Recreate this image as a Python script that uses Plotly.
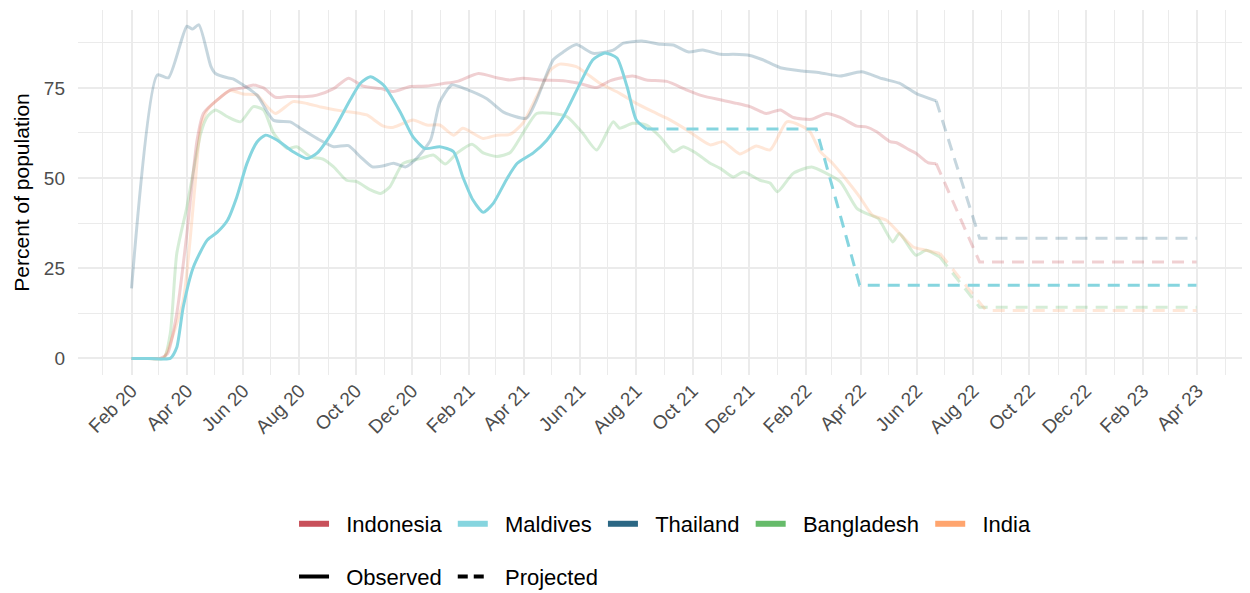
import pandas as pd
import plotly.graph_objects as go

START = "2020-02-01"

# ---- data: (day offset from 1 Feb 2020, percent of population) ----
thailand_days = [0, 28, 40, 60, 66, 73, 86, 91, 104, 110, 121, 136, 154, 172, 183, 201, 219, 235, 248, 261, 273, 284, 297, 309, 324, 334, 347, 363, 385, 403, 428, 439, 457, 468, 482, 500, 522, 533, 553, 573, 587, 603, 619, 638, 652, 670, 684, 703, 727, 746, 768, 791, 813, 832, 850, 872]
thailand_vals = [19.4, 78.6, 77.8, 92.1, 91.3, 92.5, 81, 79, 77.8, 77.5, 75.8, 73, 66, 65.6, 63.8, 61, 58.7, 59, 55.9, 53.1, 53.4, 54.1, 53.1, 55.5, 60.5, 71, 75.8, 74.6, 72, 68.3, 66.6, 71.7, 82.8, 85, 87, 84.6, 85.5, 87.4, 88, 87.1, 86.9, 85, 85.5, 84.3, 84.3, 84, 82.8, 80.6, 79.7, 79.2, 78.3, 79.5, 77.6, 76.3, 73.5, 71.4]
thailand_proj_days = [872, 919, 1154]
thailand_proj_vals = [71.4, 33.3, 33.3]

indonesia_days = [0, 15, 31, 39, 49, 60, 71, 78, 93, 107, 121, 132, 143, 156, 169, 190, 201, 219, 235, 251, 270, 284, 302, 320, 338, 353, 376, 396, 410, 424, 443, 468, 486, 504, 519, 543, 558, 580, 602, 619, 638, 656, 670, 688, 703, 717, 737, 753, 768, 786, 796, 807, 822, 829, 843, 850, 863, 872]
indonesia_vals = [0, 0, 0, 1.3, 12.4, 34.6, 60.5, 68, 71.7, 74.4, 75, 75.8, 75, 72.4, 72.6, 72.6, 73, 74.8, 77.7, 75.5, 74.8, 74, 75.4, 75.5, 76.2, 76.8, 79, 77.8, 77.2, 77.7, 77.2, 77, 76.2, 75.1, 77, 78.3, 77.2, 76.8, 74.4, 72.8, 71.7, 70.7, 69.8, 67.9, 68.9, 66.8, 66.3, 67.9, 66.8, 64.4, 64.2, 62.9, 60.1, 59.8, 57.8, 56.9, 54.3, 54]
indonesia_proj_days = [872, 919, 1154]
indonesia_proj_vals = [54, 26.7, 26.7]

india_days = [0, 17, 34, 39, 56, 69, 75, 82, 93, 107, 121, 136, 147, 156, 175, 190, 205, 226, 248, 255, 273, 284, 305, 320, 334, 349, 359, 381, 396, 410, 424, 439, 454, 464, 482, 493, 508, 529, 547, 565, 580, 602, 627, 641, 659, 677, 692, 710, 724, 735, 746, 760, 775, 789, 803, 818, 832, 847, 861, 876]
india_vals = [0, 0, 0, 2.2, 16, 48.5, 64.3, 68.9, 71.7, 74.3, 73.3, 73, 69.8, 67.9, 71.2, 70.7, 69.7, 68.7, 67.9, 67.5, 64.4, 64.1, 66.1, 64.7, 64.7, 61.9, 63.8, 61, 61.9, 62.1, 65.2, 72.6, 80, 81.6, 80.9, 79, 76.2, 73.5, 70.7, 68.4, 66.6, 63.3, 59.2, 60.1, 56.7, 58.9, 57.8, 65.6, 64.7, 62.9, 57.5, 54, 49.4, 44.8, 39.7, 38.3, 34.7, 30.9, 30, 29.1]
india_proj_days = [876, 926, 1154]
india_proj_vals = [29.1, 13.3, 13.3]

bangladesh_days = [0, 17, 35, 42, 49, 60, 75, 82, 91, 104, 118, 132, 143, 154, 169, 179, 194, 208, 219, 233, 244, 259, 270, 280, 294, 313, 327, 340, 353, 369, 381, 396, 410, 424, 439, 457, 472, 489, 504, 522, 529, 543, 558, 573, 587, 598, 612, 627, 638, 652, 663, 681, 692, 700, 717, 737, 753, 768, 786, 796, 809, 825, 832, 850, 861, 876]
bangladesh_vals = [0, 0, 0, 6.9, 29, 42, 62.4, 67, 68.9, 67, 65.6, 69.8, 68.9, 62.4, 58.2, 58.7, 55.9, 55.2, 53.1, 49.4, 49, 46.7, 45.7, 47.6, 54, 55.4, 56.4, 53.9, 57, 59.4, 57, 56, 57, 62.4, 67.9, 67.9, 67, 62.4, 57.8, 65.6, 63.8, 65.2, 64.7, 61.4, 57.3, 58.7, 56.9, 54.1, 52.7, 50.3, 51.7, 49.4, 48.6, 46.2, 51.3, 53.1, 51.3, 49, 41.6, 40.2, 38.8, 32.3, 34.6, 28.6, 30, 28.1]
bangladesh_proj_days = [876, 919, 1154]
bangladesh_proj_vals = [28.1, 14.2, 14.2]

maldives_days = [0, 21, 42, 49, 56, 67, 82, 93, 104, 114, 125, 136, 145, 158, 175, 190, 201, 219, 237, 248, 259, 273, 291, 305, 318, 334, 349, 359, 370, 381, 392, 407, 418, 435, 450, 468, 486, 500, 513, 526, 537, 547, 558]
maldives_vals = [0, 0, 0, 3, 14.2, 25.3, 32.8, 35, 38.3, 44.7, 54, 60, 61.9, 60.5, 57.3, 55.4, 56.9, 63.3, 71.7, 76.3, 78.1, 75.8, 68.4, 61.4, 58.2, 58.7, 57.3, 50.3, 43.9, 40.5, 43, 49.9, 54.1, 56.9, 60.5, 67, 76.2, 82.8, 84.7, 83.3, 75.3, 66.1, 63.6]
maldives_proj_days = [558, 742, 789, 1154]
maldives_proj_vals = [63.6, 63.6, 20.3, 20.3]

countries = ["Indonesia", "Maldives", "Thailand", "Bangladesh", "India"]
linetypes = ["Observed", "Projected"]
colors = {"Indonesia": "#C8505A", "Maldives": "#86D5DF", "Thailand": "#2B6784",
          "Bangladesh": "#66BB6A", "India": "#FFA56E"}

series = {
    "Thailand": (thailand_days, thailand_vals, thailand_proj_days, thailand_proj_vals),
    "Indonesia": (indonesia_days, indonesia_vals, indonesia_proj_days, indonesia_proj_vals),
    "India": (india_days, india_vals, india_proj_days, india_proj_vals),
    "Bangladesh": (bangladesh_days, bangladesh_vals, bangladesh_proj_days, bangladesh_proj_vals),
    "Maldives": (maldives_days, maldives_vals, maldives_proj_days, maldives_proj_vals),
}
highlight = "Maldives"


def to_dates(days):
    return pd.Timestamp(START) + pd.to_timedelta(days, unit="D")


def rgba(hexc, a):
    h = hexc.lstrip("#")
    r, g, b = int(h[0:2], 16), int(h[2:4], 16), int(h[4:6], 16)
    return f"rgba({r},{g},{b},{a})"


NB = "\u00a0"

fig = go.Figure()
draw_order = ["Bangladesh", "India", "Indonesia", "Thailand", "Maldives"]
for name in draw_order:
    d, v, pd_, pv = series[name]
    col = colors[name] if name == highlight else rgba(colors[name], 0.27)
    fig.add_trace(go.Scatter(x=to_dates(d), y=v, mode="lines",
                             line=dict(color=col, width=3, shape="spline", smoothing=0.6),
                             showlegend=False, hoverinfo="skip"))
    fig.add_trace(go.Scatter(x=to_dates(pd_), y=pv, mode="lines",
                             line=dict(color=col, width=3, dash="12px,8px"),
                             showlegend=False, hoverinfo="skip"))

# legend entries
for name in countries:
    fig.add_trace(go.Scatter(x=[None], y=[None], mode="lines", name=NB * 2 + name + NB,
                             line=dict(color=colors[name], width=6), legend="legend"))
fig.add_trace(go.Scatter(x=[None], y=[None], mode="lines", name=NB * 2 + linetypes[0] + NB,
                         line=dict(color="black", width=4), legend="legend2"))
fig.add_trace(go.Scatter(x=[None], y=[None], mode="lines", name=NB * 2 + linetypes[1] + NB,
                         line=dict(color="black", width=4, dash="10px,6px"), legend="legend2"))

grid = "#EBEBEB"
font = "Liberation Sans, Arial, sans-serif"
# page body has an 8px default margin, so the figure is sized/offset to fit the window
fig.update_layout(
    width=1242, height=585,
    margin=dict(l=70, r=0, t=2, b=218),
    paper_bgcolor="white", plot_bgcolor="white",
    font=dict(family=font, color="black"),
    xaxis=dict(
        range=["2019-12-05", "2023-05-28"], automargin=False,
        dtick="M2", tick0="2020-02-01", tickformat="%b %y",
        tickangle=-45, showgrid=True, gridcolor=grid, gridwidth=1.6,
        zeroline=False, showline=False, ticks="",
        tickfont=dict(size=19, color="#4D4D4D", family=font),
        minor=dict(dtick="M1", tick0="2020-02-01", showgrid=True, gridcolor=grid, gridwidth=0.8),
    ),
    yaxis=dict(
        range=[-4.6, 96.6], tickvals=[0, 25, 50, 75], automargin=False,
        showgrid=True, gridcolor=grid, gridwidth=1.6, zeroline=False, showline=False,
        ticks="", ticklabelstandoff=12, tickfont=dict(size=19, color="#4D4D4D", family=font),
        minor=dict(dtick=12.5, tick0=0, showgrid=True, gridcolor=grid, gridwidth=0.8),
        title=dict(text="Percent of population", font=dict(size=21, color="black", family=font), standoff=8),
    ),
    legend=dict(orientation="h", xref="container", yref="container",
                x=0.2303, xanchor="left", y=0.118, yanchor="middle",
                font=dict(size=22, family=font, color="black"), bgcolor="rgba(0,0,0,0)"),
    legend2=dict(orientation="h", xref="container", yref="container",
                 x=0.2303, xanchor="left", y=0.028, yanchor="middle",
                 font=dict(size=22, family=font, color="black"), bgcolor="rgba(0,0,0,0)"),
)

fig.write_html("out.html")
